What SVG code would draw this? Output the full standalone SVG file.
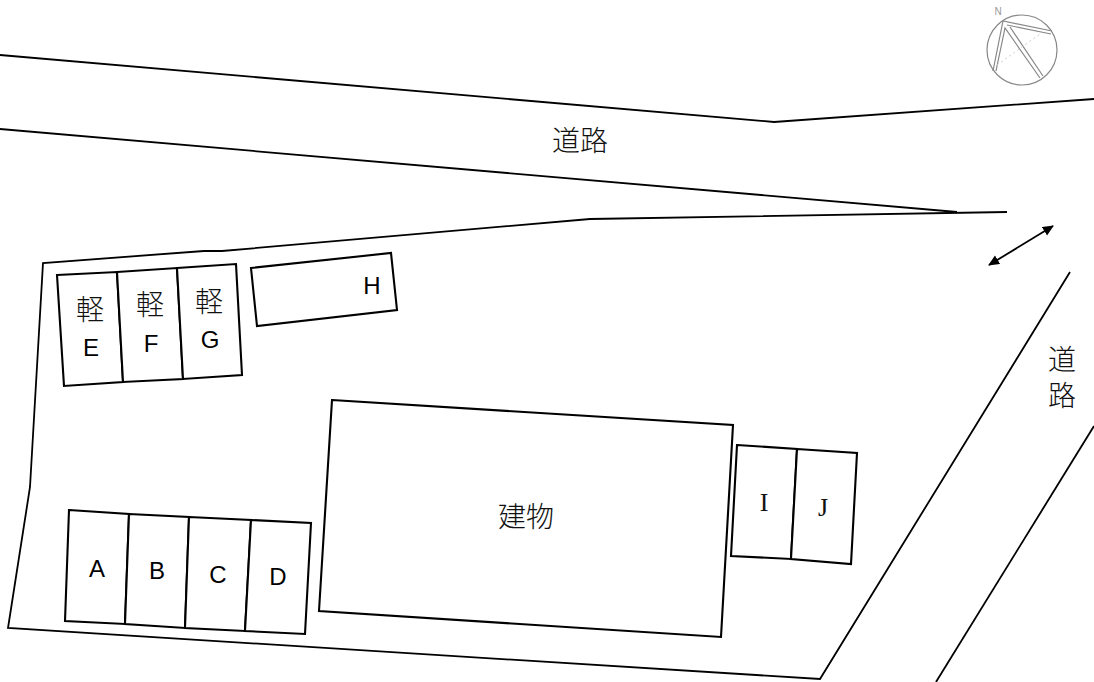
<svg xmlns="http://www.w3.org/2000/svg" width="1094" height="682" viewBox="0 0 1094 682">
<style>
.l{fill:none;stroke:#000;stroke-width:1.8;stroke-linejoin:miter}
.b{fill:#fff;stroke:#000;stroke-width:2.1}
.t{font-family:"Liberation Sans","Noto Sans CJK JP",sans-serif;font-size:24px;fill:#000;text-anchor:middle}
.j{font-family:"Noto Sans CJK JP",sans-serif;font-weight:300;font-size:28px;fill:#111;text-anchor:middle}
.s{font-family:"Liberation Serif",serif;font-size:26px;fill:#111;text-anchor:middle}
.n{fill:none;stroke:#888;stroke-width:1.2}
</style>
<defs>
<marker id="a" markerUnits="userSpaceOnUse" markerWidth="12" markerHeight="12" refX="10" refY="5" orient="auto-start-reverse"><path d="M0 0L11 5L0 10z" fill="#000"/></marker>
</defs>
<rect width="1094" height="682" fill="#fff"/>
<g id="connectors">
<path class="l" d="M0 55L774 122L1094 99"/>
<path class="l" d="M0 129L957 212"/>
<path class="l" d="M1007 212L590 219L222 251L204 251L43 263L30 487L8 628L820 679L1070 272"/>
<path class="l" d="M936 682L1094 426"/>
<path d="M989 265L1053 226" stroke="#000" stroke-width="1.8" marker-start="url(#a)" marker-end="url(#a)"/>
</g>
<g id="compass">
<circle class="n" cx="1022" cy="50" r="35"/>
<path class="n" d="M993 71L1003 21L1052 31M1051 34L1007 25M996 71L1005 28L1040 78M1010 27L1043 76"/>
<path d="M997 65L1040 34" stroke="#ccc" stroke-width="1" stroke-dasharray="2 3" fill="none"/>
<text x="998" y="15" font-family="Liberation Sans,sans-serif" font-size="10" fill="#999" text-anchor="middle">N</text>
</g>
<g id="road-top"><text class="j" x="580" y="151">道路</text></g>
<g id="road-right"><text class="j" x="1062" y="345" style="writing-mode:vertical-rl;text-anchor:start;letter-spacing:8px">道路</text></g>
<g id="E"><path class="b" d="M57 275L117 272L123 382L64 386z"/><text class="j" x="90" y="320">軽</text><text class="t" x="91" y="356">E</text></g>
<g id="F"><path class="b" d="M117 272L177 268L183 379L123 382z"/><text class="j" x="150" y="315">軽</text><text class="t" x="151" y="352">F</text></g>
<g id="G"><path class="b" d="M177 268L236 264L242 375L183 379z"/><text class="j" x="209" y="312">軽</text><text class="t" x="210" y="348">G</text></g>
<g id="H"><path class="b" d="M251 268L391 253L397 310L257 326z"/><text class="t" x="372" y="294">H</text></g>
<g id="building"><path class="b" d="M332 400L733 425L721 637L319 611z"/><text class="j" x="526" y="527">建物</text></g>
<g id="A"><path class="b" d="M69 510L129 514L125 624L65 621z"/><text class="t" x="97" y="577">A</text></g>
<g id="B"><path class="b" d="M129 514L189 517L185 628L125 624z"/><text class="t" x="157" y="579">B</text></g>
<g id="C"><path class="b" d="M189 517L251 520L245 631L185 628z"/><text class="t" x="218" y="583">C</text></g>
<g id="D"><path class="b" d="M251 520L311 523L305 634L245 631z"/><text class="t" x="278" y="585">D</text></g>
<g id="I"><path class="b" d="M737 445L797 449L791 559L731 556z"/><text class="s" x="764" y="511">I</text></g>
<g id="J"><path class="b" d="M797 449L857 453L851 564L791 559z"/><text class="s" x="823" y="516">J</text></g>
</svg>
